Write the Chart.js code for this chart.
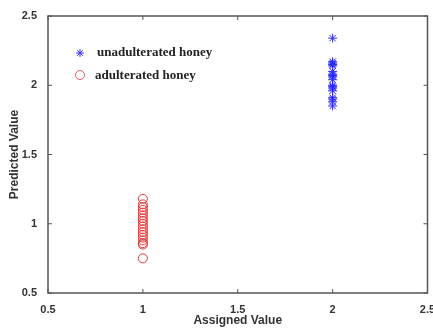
<!DOCTYPE html>
<html>
<head>
<meta charset="utf-8">
<style>
html,body{margin:0;padding:0;background:#fff;}
#wrap{width:433px;height:328px;}
</style>
<script src="https://cdn.jsdelivr.net/npm/chart.js@4.4.0/dist/chart.umd.min.js"></script>
</head>
<body>
<div id="wrap"><canvas id="c" width="433" height="328"></canvas></div>
<script>
const seriesNames = ["unadulterated honey", "adulterated honey"];
const assignedUnadulterated = 2;
const assignedAdulterated = 1;
const predictedUnadulterated = [2.34, 2.17, 2.16, 2.15, 2.14, 2.10, 2.08, 2.07, 2.06, 2.04, 2.00, 1.99, 1.98, 1.96, 1.91, 1.90, 1.88, 1.85];
const predictedAdulterated = [1.18, 1.14, 1.12, 1.10, 1.08, 1.06, 1.04, 1.02, 1.00, 0.98, 0.96, 0.94, 0.92, 0.90, 0.88, 0.86, 0.85, 0.75];
const xTicks = [0.5, 1, 1.5, 2, 2.5];
const yTicks = [0.5, 1, 1.5, 2, 2.5];

const frameColor = '#555';
const tickFont = {family: 'Liberation Sans, Arial, sans-serif', size: 11, weight: 'bold'};

const framePlugin = {
  id: 'frame',
  afterDraw(chart) {
    const {ctx, chartArea: a, scales} = chart;
    ctx.save();
    ctx.strokeStyle = frameColor;
    ctx.lineWidth = 1.5;
    ctx.strokeRect(a.left, a.top, a.right - a.left, a.bottom - a.top);
    ctx.lineWidth = 1;
    const L = 4;
    ctx.beginPath();
    xTicks.forEach(v => {
      const px = scales.x.getPixelForValue(v);
      ctx.moveTo(px, a.bottom); ctx.lineTo(px, a.bottom - L);
      ctx.moveTo(px, a.top); ctx.lineTo(px, a.top + L);
    });
    yTicks.forEach(v => {
      const py = scales.y.getPixelForValue(v);
      ctx.moveTo(a.left, py); ctx.lineTo(a.left + L, py);
      ctx.moveTo(a.right, py); ctx.lineTo(a.right - L, py);
    });
    ctx.stroke();
    // legend inside plot
    const lx = a.left + 32, ly1 = a.top + 37, ly2 = a.top + 59;
    ctx.strokeStyle = '#3333ff';
    ctx.lineWidth = 1;
    const r = 4;
    ctx.beginPath();
    for (let i = 0; i < 4; i++) {
      const ang = i * Math.PI / 4;
      ctx.moveTo(lx - r * Math.cos(ang), ly1 - r * Math.sin(ang));
      ctx.lineTo(lx + r * Math.cos(ang), ly1 + r * Math.sin(ang));
    }
    ctx.stroke();
    ctx.strokeStyle = '#e05555';
    ctx.beginPath();
    ctx.arc(lx, ly2, 4.5, 0, Math.PI * 2);
    ctx.stroke();
    ctx.fillStyle = '#222';
    ctx.font = 'bold 13px "Liberation Serif", "Times New Roman", serif';
    ctx.textBaseline = 'middle';
    ctx.fillText(seriesNames[0], lx + 17, ly1);
    ctx.fillText(seriesNames[1], lx + 15, ly2 + 1);
    ctx.restore();
  }
};

new Chart(document.getElementById('c'), {
  type: 'scatter',
  data: {
    datasets: [
      {
        label: seriesNames[0],
        data: predictedUnadulterated.map(v => ({x: assignedUnadulterated, y: v})),
        pointStyle: 'star',
        radius: 4.5,
        borderColor: '#2a2aff',
        backgroundColor: '#2a2aff',
        borderWidth: 1
      },
      {
        label: seriesNames[1],
        data: predictedAdulterated.map(v => ({x: assignedAdulterated, y: v})),
        pointStyle: 'circle',
        radius: 4.5,
        borderColor: '#e23a3a',
        backgroundColor: 'rgba(0,0,0,0)',
        borderWidth: 1
      }
    ]
  },
  options: {
    responsive: false,
    animation: false,
    devicePixelRatio: 1,
    layout: {padding: {top: 16, right: 4, left: 7, bottom: 0}},
    plugins: {legend: {display: false}, tooltip: {enabled: false}},
    scales: {
      x: {
        type: 'linear', min: 0.5, max: 2.5,
        afterBuildTicks(s) { s.ticks = xTicks.map(v => ({value: v})); },
        afterFit(s) { s.height = 35; s.paddingLeft = 0; s.paddingRight = 0; },
        grid: {display: false},
        border: {display: false},
        ticks: {color: '#333', font: tickFont, padding: 2, maxRotation: 0, autoSkip: false,
          callback: v => String(v)},
        title: {display: true, text: 'Assigned Value', color: '#333',
          font: {family: 'Liberation Sans, Arial, sans-serif', size: 12, weight: 'bold'}, padding: {top: 0, bottom: 0}}
      },
      y: {
        type: 'linear', min: 0.5, max: 2.5,
        afterBuildTicks(s) { s.ticks = yTicks.map(v => ({value: v})); },
        afterFit(s) { s.width = 41; s.paddingTop = 0; s.paddingBottom = 0; },
        grid: {display: false},
        border: {display: false},
        ticks: {color: '#333', font: tickFont, padding: 3, autoSkip: false,
          callback: v => String(v)},
        title: {display: true, text: 'Predicted Value', color: '#333',
          font: {family: 'Liberation Sans, Arial, sans-serif', size: 12, weight: 'bold'}, padding: {top: 0, bottom: 4}}
      }
    }
  },
  plugins: [framePlugin]
});
</script>
</body>
</html>
